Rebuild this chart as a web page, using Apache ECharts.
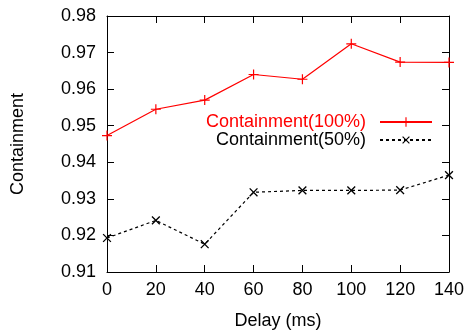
<!DOCTYPE html>
<html><head><meta charset="utf-8">
<script src="https://cdn.jsdelivr.net/npm/echarts@6/dist/echarts.min.js"></script>
<style>html,body{margin:0;padding:0;background:#fff}#c{width:469px;height:335px}</style>
</head><body><div id="c"></div>
<script>
var delays = [0, 20, 40, 60, 80, 100, 120, 140];
var cont100 = [0.9473, 0.9545, 0.9570, 0.9640, 0.9627, 0.9724, 0.9674, 0.9673];
var cont50 = [0.9193, 0.9241, 0.9176, 0.9318, 0.9323, 0.9323, 0.9324, 0.9365];
var name100 = 'Containment(100%)';
var name50 = 'Containment(50%)';

var FONT = 'Liberation Sans, Arial, sans-serif';
var plus = 'path://M-1.2,-10h2.4v20h-2.4zM-10,-1.2h20v2.4h-20z';

function pairs(xs, ys){ return xs.map(function(x,i){ return [x, ys[i]]; }); }

var chart = echarts.init(document.getElementById('c'), null, {renderer:'canvas'});
var tickStyle = {show:true, inside:true, length:7, lineStyle:{color:'#000', width:1}};
chart.setOption({
  animation:false,
  textStyle:{fontFamily:FONT},
  grid:{left:107, right:20, top:16, bottom:61, show:false},
  legend:{
    orient:'vertical', align:'right', right:31, top:108,
    itemWidth:52, itemHeight:12, itemGap:0,
    textStyle:{fontSize:18, lineHeight:17, fontFamily:FONT, color:'#000', padding:[0,9,0,0]},
    data:[{name:name100, textStyle:{color:'#ff0000'}}, {name:name50, textStyle:{color:'#000'}}]
  },
  xAxis:[{
    type:'value', min:0, max:140, interval:20, position:'bottom',
    name:'Delay (ms)', nameLocation:'middle', nameGap:40,
    nameTextStyle:{fontSize:18, color:'#000', fontFamily:FONT},
    axisLine:{show:true, onZero:false, lineStyle:{color:'#000', width:1}},
    axisTick:tickStyle,
    axisLabel:{fontSize:18, color:'#000', margin:9, fontFamily:FONT},
    splitLine:{show:false}
  },{
    type:'value', min:0, max:140, interval:20, position:'top',
    axisLine:{show:true, onZero:false, lineStyle:{color:'#000', width:1}},
    axisTick:tickStyle, axisLabel:{show:false}, splitLine:{show:false}
  }],
  yAxis:[{
    type:'value', min:0.91, max:0.98, interval:0.01, position:'left',
    name:'Containment', nameLocation:'middle', nameGap:80,
    nameTextStyle:{fontSize:18, color:'#000', fontFamily:FONT},
    axisLine:{show:true, onZero:false, lineStyle:{color:'#000', width:1}},
    axisTick:tickStyle,
    axisLabel:{fontSize:18, color:'#000', margin:11, fontFamily:FONT,
      formatter:function(v){ return v.toFixed(2); }},
    splitLine:{show:false}
  },{
    type:'value', min:0.91, max:0.98, interval:0.01, position:'right',
    axisLine:{show:true, onZero:false, lineStyle:{color:'#000', width:1}},
    axisTick:tickStyle, axisLabel:{show:false}, splitLine:{show:false}
  }],
  series:[{
    name:name100, type:'line', data:pairs(delays, cont100),
    symbol:plus, symbolSize:10, showAllSymbol:true,
    lineStyle:{color:'#ff0000', width:1.2},
    itemStyle:{color:'#ff0000'}
  },{
    name:name50, type:'line', data:pairs(delays, cont50),
    symbol:plus, symbolRotate:45, symbolSize:11, showAllSymbol:true,
    lineStyle:{color:'#000', width:1.2, type:[3,3]},
    itemStyle:{color:'#000'}
  }]
});
</script></body></html>
